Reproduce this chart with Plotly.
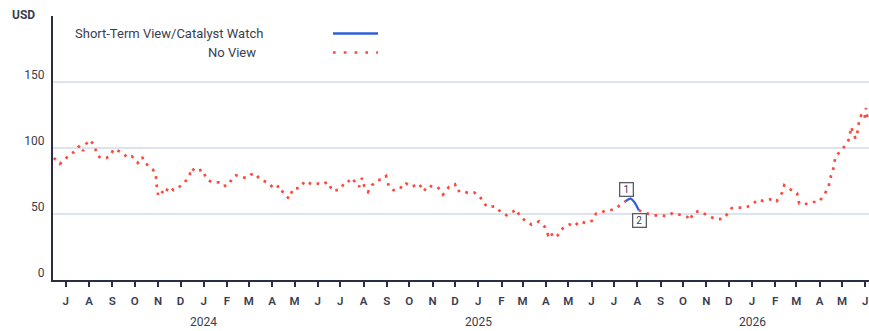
import plotly.graph_objects as go

# Weekly-ish closing prices (USD)
price_dates = [
    "2023-06-15", "2023-06-23", "2023-06-30", "2023-07-05", "2023-07-12", "2023-07-16",
    "2023-07-20", "2023-07-24", "2023-07-28", "2023-08-02", "2023-08-08", "2023-08-12",
    "2023-08-17", "2023-08-24", "2023-08-29", "2023-09-03", "2023-09-15", "2023-09-21",
    "2023-09-27", "2023-10-05", "2023-10-11", "2023-10-14", "2023-10-19", "2023-10-25",
    "2023-10-29", "2023-10-30", "2023-11-01", "2023-11-04", "2023-11-10", "2023-11-15",
    "2023-11-22", "2023-12-01", "2023-12-07", "2023-12-13", "2023-12-16", "2023-12-21",
    "2023-12-30", "2024-01-05", "2024-01-12", "2024-01-21", "2024-01-27", "2024-02-03",
    "2024-02-07", "2024-02-13", "2024-02-18", "2024-02-27", "2024-03-04", "2024-03-10",
    "2024-03-15", "2024-03-22", "2024-03-28", "2024-04-03", "2024-04-11", "2024-04-17",
    "2024-04-24", "2024-04-29", "2024-05-08", "2024-05-15", "2024-05-22", "2024-05-25",
    "2024-06-02", "2024-06-07", "2024-06-14", "2024-06-21", "2024-07-01", "2024-07-08",
    "2024-07-12", "2024-07-17", "2024-07-21", "2024-07-26", "2024-07-30", "2024-08-02",
    "2024-08-07", "2024-08-12", "2024-08-15", "2024-08-20", "2024-08-25", "2024-08-31",
    "2024-09-04", "2024-09-10", "2024-09-17", "2024-09-23", "2024-09-27", "2024-10-04",
    "2024-10-14", "2024-10-20", "2024-10-27", "2024-11-01", "2024-11-08", "2024-11-15",
    "2024-11-23", "2024-12-01", "2024-12-04", "2024-12-11", "2024-12-18", "2024-12-27",
    "2025-01-03", "2025-01-08", "2025-01-13", "2025-01-23", "2025-02-01", "2025-02-08",
    "2025-02-14", "2025-02-21", "2025-02-26", "2025-03-05", "2025-03-13", "2025-03-23",
    "2025-03-31", "2025-04-04", "2025-04-08", "2025-04-10", "2025-04-17", "2025-04-24",
    "2025-05-03", "2025-05-09", "2025-05-16", "2025-05-25", "2025-06-03", "2025-06-07",
    "2025-06-13", "2025-06-21", "2025-07-01", "2025-07-07", "2025-07-16", "2025-07-19",
    "2025-07-23", "2025-07-28", "2025-08-03", "2025-08-12", "2025-08-21", "2025-08-31",
    "2025-09-10", "2025-09-18", "2025-09-28", "2025-10-07", "2025-10-10", "2025-10-15",
    "2025-10-22", "2025-10-30", "2025-11-05", "2025-11-14", "2025-11-24", "2025-12-02",
    "2025-12-05", "2025-12-14", "2025-12-23", "2025-12-31", "2026-01-09", "2026-01-16",
    "2026-01-24", "2026-01-30", "2026-02-03", "2026-02-10", "2026-02-13", "2026-02-21",
    "2026-03-02", "2026-03-05", "2026-03-12", "2026-03-22", "2026-03-31", "2026-04-07",
    "2026-04-13", "2026-04-16", "2026-04-20", "2026-04-22", "2026-04-28", "2026-05-05",
    "2026-05-11", "2026-05-13", "2026-05-15", "2026-05-19", "2026-05-22", "2026-05-24",
    "2026-05-27", "2026-05-31", "2026-06-02", "2026-06-04",
]
price_values = [
    92.5, 87.9, 91.3, 94.5, 97.0, 99.6,
    102.1, 97.8, 102.9, 106.2, 102.1, 94.5,
    92.3, 92.5, 93.8, 99.3, 96.3, 92.8,
    93.8, 88.7, 93.2, 88.7, 86.9, 83.7,
    80.6, 72.7, 64.7, 68.0, 64.9, 70.5,
    68.0, 71.2, 74.3, 79.3, 84.9, 81.9,
    83.7, 76.3, 74.0, 74.0, 71.2, 71.8,
    76.1, 79.3, 78.1, 77.3, 79.9, 80.6,
    76.8, 74.8, 73.5, 69.2, 71.4, 64.7,
    61.7, 69.2, 69.7, 75.0, 73.5, 72.3,
    73.0, 72.3, 74.3, 67.4, 68.7, 74.8,
    74.8, 77.3, 73.8, 70.5, 77.3, 71.0,
    66.7, 71.8, 73.0, 75.6, 76.1, 78.8,
    70.5, 68.0, 70.5, 69.7, 73.0, 70.5,
    73.0, 67.2, 71.8, 70.5, 70.5, 64.7,
    70.5, 72.5, 67.2, 68.0, 65.9, 66.2,
    63.4, 58.6, 55.3, 55.8, 51.0, 49.0,
    51.0, 53.5, 47.7, 45.2, 41.9, 44.4,
    40.1, 34.3, 36.8, 32.5, 33.8, 39.3,
    42.1, 40.6, 44.4, 43.1, 45.2, 50.3,
    51.0, 52.8, 53.3, 55.8, 59.6, 60.6,
    61.7, 59.1, 52.8, 50.7, 49.0, 49.0,
    48.4, 51.0, 49.5, 47.7, 45.2, 51.0,
    52.2, 50.3, 48.4, 45.9, 46.5, 52.0,
    54.5, 54.8, 54.8, 56.6, 60.9, 59.8,
    60.9, 61.7, 59.8, 65.9, 71.8, 68.7,
    65.9, 57.9, 57.3, 59.1, 59.1, 64.2,
    70.5, 78.1, 85.6, 93.2, 97.0, 101.6,
    107.2, 116.0, 112.8, 107.2, 113.0, 121.1,
    125.4, 122.4, 130.4, 122.4,
]

# Period rated "Short-Term View/Catalyst Watch" (inclusive); rest is "No View"
watch_start = "2025-07-16"
watch_end = "2025-08-03"
watch_labels = ["1", "2"]

month_ticks = [f"{y}-{m:02d}-01" for y in (2023, 2024, 2025, 2026) for m in range(1, 13)]
month_ticks = [d for d in month_ticks if "2023-07-01" <= d <= "2026-06-01"]
month_letters = ["J", "F", "M", "A", "M", "J", "J", "A", "S", "O", "N", "D"]
month_text = [month_letters[int(d[5:7]) - 1] for d in month_ticks]
year_labels = ["2024", "2025", "2026"]

y_ticks = [0, 50, 100, 150, 200]
y_text = ["0", "50", "100", "150", ""]

RED = "#fa4a40"
BLUE = "#2f5fdc"
INK = "#3a3d50"
AXIS = "#2b2e42"
GRID = "#dee3f2"
FONT = "Roboto"

no_view = [v if not (watch_start < d < watch_end) else None
           for d, v in zip(price_dates, price_values)]
watch_d = [d for d in price_dates if watch_start <= d <= watch_end]
watch_v = [v for d, v in zip(price_dates, price_values) if watch_start <= d <= watch_end]

fig = go.Figure()
fig.add_trace(go.Scatter(
    x=price_dates, y=no_view, mode="lines", connectgaps=False,
    line=dict(color=RED, width=2.7, dash="2.7px,5.6px"),
    name="No View", showlegend=False, hoverinfo="x+y",
))
fig.add_trace(go.Scatter(
    x=watch_d, y=watch_v, mode="lines",
    line=dict(color=BLUE, width=2.2, shape="spline"),
    name="Short-Term View/Catalyst Watch", showlegend=False,
))

# Numbered markers at the start / end of the watch period
box = dict(showarrow=False, font=dict(family=FONT, size=10, color=INK),
           bgcolor="white", bordercolor="#5a5d68", borderwidth=1.3, borderpad=1,
           width=10, height=10)
fig.add_annotation(x=watch_d[0], y=watch_v[0], text=watch_labels[0],
                   xshift=1, yshift=12, **box)
fig.add_annotation(x=watch_d[-1], y=watch_v[-1], text=watch_labels[-1],
                   xshift=1, yshift=-10, **box)

# Year labels under January ticks
for yr in year_labels:
    fig.add_annotation(x=f"{yr}-01-01", y=-0.158, xref="x", yref="paper",
                       text=yr, showarrow=False, yanchor="middle",
                       font=dict(family=FONT, size=12, color=INK))

# Axis unit
fig.add_annotation(x=-0.0196, y=1.002, xref="paper", yref="paper", text="<b>USD</b>",
                   showarrow=False, xanchor="right", yanchor="middle",
                   font=dict(family=FONT, size=12, color=INK))

# Legend (text on the left, sample on the right)
legend_rows = [("Short-Term View/Catalyst Watch", 0.2598, 0.9337),
               ("No View", 0.2516, 0.8617)]
for txt, lx, ly in legend_rows:
    fig.add_annotation(x=lx, y=ly, xref="paper", yref="paper", text=txt,
                       showarrow=False, xanchor="right", yanchor="middle",
                       font=dict(family=FONT, size=13, color=INK))
fig.add_shape(type="line", xref="paper", yref="paper", x0=0.3431, x1=0.3983,
              y0=0.9337, y1=0.9337, line=dict(color=BLUE, width=2.5))
fig.add_shape(type="line", xref="paper", yref="paper", x0=0.3431, x1=0.3983,
              y0=0.8617, y1=0.8617, line=dict(color=RED, width=2.7, dash="2.7px,8.1px"))

fig.update_layout(
    width=869, height=331,
    margin=dict(l=53, r=0, t=16, b=51),
    paper_bgcolor="white", plot_bgcolor="white",
    showlegend=False,
    font=dict(family=FONT, color=INK),
    xaxis=dict(
        type="date", range=["2023-06-14", "2026-06-06"],
        showgrid=False, zeroline=False,
        showline=True, linecolor=AXIS, linewidth=2,
        ticks="outside", ticklen=5, tickwidth=1.5, tickcolor=AXIS,
        tickvals=month_ticks, ticktext=month_text, ticklabelstandoff=4,
        tickfont=dict(family=FONT, size=11.5, color=INK, weight=600),
    ),
    yaxis=dict(
        range=[0, 200], tickvals=y_ticks, ticktext=y_text,
        showgrid=True, gridcolor=GRID, gridwidth=2, zeroline=False,
        showline=True, linecolor=AXIS, linewidth=2,
        ticks="", ticklabelshift=-7, ticklabelstandoff=4,
        tickfont=dict(family=FONT, size=12, color=INK),
    ),
)

fig.write_html("out.html")
